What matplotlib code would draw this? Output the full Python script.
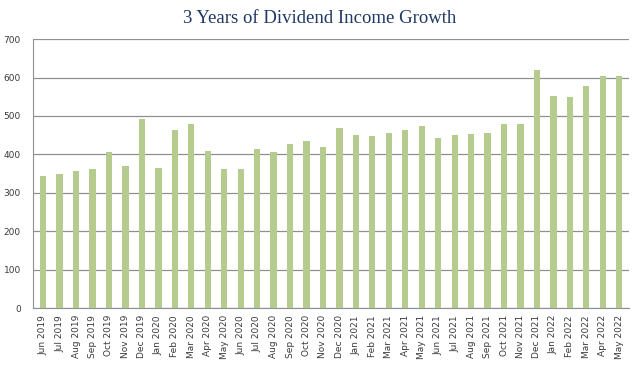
import matplotlib.pyplot as plt

# monthly dividend income
months = ['Jun 2019', 'Jul 2019', 'Aug 2019', 'Sep 2019', 'Oct 2019', 'Nov 2019',
          'Dec 2019', 'Jan 2020', 'Feb 2020', 'Mar 2020', 'Apr 2020', 'May 2020',
          'Jun 2020', 'Jul 2020', 'Aug 2020', 'Sep 2020', 'Oct 2020', 'Nov 2020',
          'Dec 2020', 'Jan 2021', 'Feb 2021', 'Mar 2021', 'Apr 2021', 'May 2021',
          'Jun 2021', 'Jul 2021', 'Aug 2021', 'Sep 2021', 'Oct 2021', 'Nov 2021',
          'Dec 2021', 'Jan 2022', 'Feb 2022', 'Mar 2022', 'Apr 2022', 'May 2022']
income = [345, 350, 357, 363, 406, 370, 492, 365, 464, 480, 408, 362,
          361, 414, 407, 428, 434, 418, 470, 451, 448, 455, 463, 474,
          443, 451, 454, 455, 478, 478, 619, 552, 549, 578, 605, 605]
y_ticks = [0, 100, 200, 300, 400, 500, 600, 700]

fig = plt.figure(figsize=(6.4, 3.69), dpi=100)
ax = fig.add_axes([0.052, 0.165, 0.931, 0.729])

ax.bar(range(len(months)), income, width=0.38, color='#b5cc8e', zorder=3)

ax.set_ylim(0, 700)
ax.set_xlim(-0.6, len(months) - 0.4)
ax.set_yticks(y_ticks)
ax.set_xticks(range(len(months)))
ax.set_xticklabels(months, rotation=90, fontsize=6.5, color='#3a3a3a')
ax.tick_params(axis='y', labelsize=6.5, labelcolor='#3a3a3a', length=0, pad=9)
ax.tick_params(axis='x', length=0, pad=5)
ax.grid(axis='y', color='#909090', linewidth=0.9, zorder=0)

for side in ['top', 'right']:
    ax.spines[side].set_visible(False)
ax.spines['left'].set_color('#909090')
ax.spines['bottom'].set_color('#909090')

fig.text(0.5, 0.95, '3 Years of Dividend Income Growth', ha='center', va='center',
         fontsize=13.5, family='Liberation Serif', color='#1f3864')

fig.savefig('out.png', dpi=100)
